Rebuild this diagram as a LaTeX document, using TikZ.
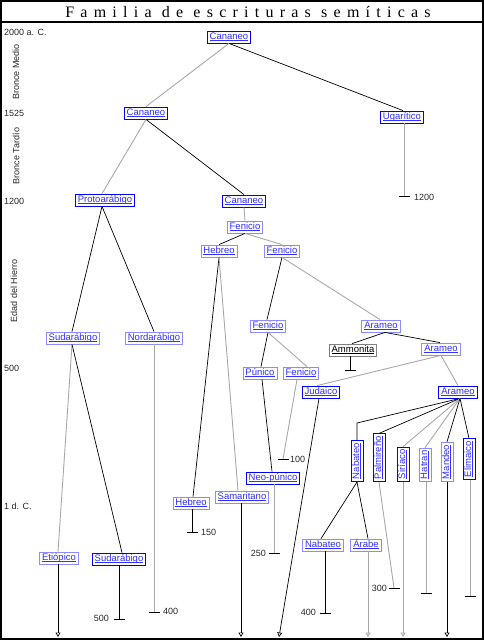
\documentclass[tikz,border=0pt]{standalone}
\usepackage{fontspec}
\setmainfont{Liberation Sans}
\newfontfamily\titlefont[LetterSpace=39]{Liberation Serif}
\usetikzlibrary{arrows.meta,calc}
\definecolor{bx}{HTML}{0000FF}
\definecolor{bxl}{HTML}{8C8CFF}
\definecolor{tx}{HTML}{3030FF}
\definecolor{lg}{HTML}{A8A8A8}
\newcommand\lk[1]{\setbox0\hbox{#1}\rlap{\vrule height -1.3pt depth 1.9pt width \wd0}\box0}
\newcommand\mytick[1]{\draw[tk] ([xshift=-5.5pt]#1) -- ([xshift=5.5pt]#1);}
\begin{document}
\begin{tikzpicture}[x=1pt,y=-1pt,
  lbl/.style={draw=bx, fill=white, text=tx, font=\fontsize{9.5}{10}\selectfont,
    inner xsep=2.5pt, inner ysep=1pt, text height=7pt, text depth=3pt, line width=0.8pt},
  lbll/.style={lbl, draw=bxl},
  bl/.style={draw=black, line width=0.7pt},
  gl/.style={draw=lg, line width=0.9pt},
  tk/.style={draw=black, line width=0.8pt},
  yr/.style={font=\fontsize{9}{10}\selectfont, text=black!85, inner sep=0pt},
  arr/.style={-{Triangle[open,width=5pt,length=4.5pt]}}
]
\useasboundingbox (0,0) rectangle (484,640);
\draw[line width=2pt] (1,1) rectangle (483,639);
\draw[line width=1.6pt] (1,22) -- (483,22);
\node (title) at (248,12.5) {\titlefont\fontsize{16}{17}\selectfont Familia de escrituras semíticas};

% period labels
\node[yr, anchor=west] (y2000) at (4,32) {2000 a. C.};
\node[yr, anchor=west] (y1525) at (4,113) {1525};
\node[yr, anchor=west] (y1200) at (4,201) {1200};
\node[yr, anchor=west] (y500) at (4,368) {500};
\node[yr, anchor=west] (y1dc) at (4,506) {1 d. C.};
\node[yr, rotate=90] (bm) at (16,72) {Bronce Medio};
\node[yr, rotate=90] (bt) at (16,156) {Bronce Tardío};
\node[yr, rotate=90] (eh) at (14,291) {Edad del Hierro};

% nodes
\node[lbl] (can1) at (229,37) {\lk{Cananeo}};
\node[lbl] (can2) at (146,113) {\lk{Cananeo}};
\node[lbl] (uga) at (402,117) {\lk{Ugarítico}};
\node[lbl] (proto) at (105,200) {\lk{Protoarábigo}};
\node[lbl] (can3) at (244,201) {\lk{Cananeo}};
\node[lbll] (fen1) at (245,227) {\lk{Fenicio}};
\node[lbll] (heb1) at (219,251) {\lk{Hebreo}};
\node[lbll] (fen2) at (282,251) {\lk{Fenicio}};
\node[lbll] (sud1) at (73,338) {\lk{Sudarábigo}};
\node[lbll] (nord) at (154,338) {\lk{Nordarábigo}};
\node[lbll] (fen3) at (268,326) {\lk{Fenicio}};
\node[lbll] (ara1) at (381,326) {\lk{Arameo}};
\node[lbl, draw=gray, text=black] (amm) at (353,350) {\lk{Ammonita}};
\node[lbll] (ara2) at (441,349) {\lk{Arameo}};
\node[lbll] (pun) at (260,373) {\lk{Púnico}};
\node[lbll] (fen4) at (301,373) {\lk{Fenicio}};
\node[lbl] (jud) at (321,392) {\lk{Judaico}};
\node[lbl] (ara3) at (458,392) {\lk{Arameo}};
\node[lbl, rotate=90, anchor=west] (nab1) at (357,482) {\lk{Nabateo}};
\node[lbl, rotate=90, anchor=west] (pal) at (379,482) {\lk{Palmireño}};
\node[lbl, rotate=90, anchor=west] (sir) at (403,482) {\lk{Siríaco}};
\node[lbll, rotate=90, anchor=west] (hat) at (425,482) {\lk{Hatran}};
\node[lbll, rotate=90, anchor=west] (man) at (447,482) {\lk{Mandeo}};
\node[lbl, rotate=90, anchor=west] (eli) at (469,480) {\lk{Elimaico}};
\node[lbl] (npun) at (273,478) {\lk{Neo-púnico}};
\node[lbll] (sam) at (242,497) {\lk{Samaritano}};
\node[lbll] (heb2) at (191,503) {\lk{Hebreo}};
\node[lbll] (eti) at (59,558) {\lk{Etiópico}};
\node[lbl] (sud2) at (119,559) {\lk{Sudarábigo}};
\node[lbll] (nab2) at (323,545) {\lk{Nabateo}};
\node[lbll] (arab) at (366,545) {\lk{Árabe}};

% tick and arrow coordinates
\coordinate (tuga) at (404,196);
\coordinate (tamm) at (350,370);
\coordinate (tsud2) at (119,619);
\coordinate (tnord) at (154,612);
\coordinate (theb2) at (192,532);
\coordinate (t100) at (283,459);
\coordinate (tnpun) at (274,553);
\coordinate (tnab2) at (325,613);
\coordinate (tpal) at (394,588);
\coordinate (that) at (426,593);
\coordinate (teli) at (470,596);
\coordinate (aeti) at (58,637);
\coordinate (asam) at (241,637);
\coordinate (ajud) at (279,637);
\coordinate (aara) at (368,637);
\coordinate (asir) at (403,637);
\coordinate (aman) at (447,637);
\coordinate (fan) at ([xshift=2pt]ara3.south);
\coordinate (nabk) at (357,423);

% connectors
\draw[gl] (can1.south) -- (can2.north);
\draw[bl] (can1.south) -- ([xshift=1pt]uga.north);
\draw[gl] (can2.south) -- ([xshift=-3pt]proto.north);
\draw[bl] (can2.south) -- (can3.north);
\draw[gl] (can3.south) -- (fen1.north);
\draw[bl] (fen1.south) -- (heb1.north);
\draw[gl] (fen1.south) -- (fen2.north);
\draw[bl] ([xshift=-3pt]proto.south) -- ([xshift=-1pt]sud1.north);
\draw[bl] ([xshift=-3pt]proto.south) -- (nord.north);
\draw[gl] ([xshift=-1pt]sud1.south) -- ([xshift=-1pt]eti.north);
\draw[bl] ([xshift=-1pt]sud1.south) -- ([xshift=3pt]sud2.north);
\draw[bl] (heb1.south) -- ([xshift=2pt]heb2.north);
\draw[gl] (heb1.south) -- ([xshift=-4pt]sam.north);
\draw[bl] (fen2.south) -- ([xshift=-1pt]fen3.north);
\draw[gl] (fen2.south) -- ([xshift=-1pt]ara1.north);
\draw[bl] (fen3.south) -- ([xshift=1pt]pun.north);
\draw[gl] (fen3.south) -- ([xshift=6pt]fen4.north);
\draw[bl] ([xshift=4pt]ara1.south) -- ([xshift=-1pt]amm.north);
\draw[bl] ([xshift=4pt]ara1.south) -- ([xshift=-1pt]ara2.north);
\draw[gl] (ara2.south) -- ([xshift=-4pt]jud.north);
\draw[gl] (ara2.south) -- (ara3.north);
\draw[bl] ([xshift=2pt]pun.south) -- ([xshift=-1pt]npun.north);
\draw[gl] ([xshift=-4pt]fen4.south) -- (t100);
\draw[bl] (fan) -- (nabk) -- (nab1.east);
\draw[bl] (fan) -- (pal.east);
\draw[gl] (fan) -- (sir.east);
\draw[gl] (fan) -- (hat.east);
\draw[bl] (fan) -- (man.east);
\draw[bl] (fan) -- (eli.east);
\draw[bl] (nab1.west) -- ([xshift=-2pt]nab2.north);
\draw[bl] (nab1.west) -- ([xshift=2pt]arab.north);

% down lines with ticks
\draw[gl] ([xshift=2pt]uga.south) -- (tuga); \mytick{tuga}
\draw[bl] (amm.south -| tamm) -- (tamm); \mytick{tamm}
\draw[bl] (sud2.south) -- (tsud2); \mytick{tsud2}
\draw[gl] (nord.south) -- (tnord); \mytick{tnord}
\draw[bl] (heb2.south -| theb2) -- (theb2); \mytick{theb2}
\mytick{t100}
\draw[gl] (npun.south -| tnpun) -- (tnpun); \mytick{tnpun}
\draw[bl] (nab2.south -| tnab2) -- (tnab2); \mytick{tnab2}
\draw[gl] (pal.west) -- (tpal); \mytick{tpal}
\draw[gl] (hat.west -| that) -- (that); \mytick{that}
\draw[gl] (eli.west -| teli) -- (teli); \mytick{teli}

\node[yr, anchor=west] (l1200) at (414,197) {1200};
\node[yr, anchor=east] (l500) at (109,618) {500};
\node[yr, anchor=west] (l400a) at (163,611) {400};
\node[yr, anchor=west] (l150) at (201,532) {150};
\node[yr, anchor=west] (l100) at (290,459) {100};
\node[yr, anchor=east] (l250) at (266,553) {250};
\node[yr, anchor=east] (l400b) at (316,612) {400};
\node[yr, anchor=east] (l300) at (387,588) {300};

% arrows to the bottom
\draw[bl, arr] (eti.south -| aeti) -- (aeti);
\draw[bl, arr] (sam.south -| asam) -- (asam);
\draw[bl, arr] ([xshift=-2pt]jud.south) -- (ajud);
\draw[gl, arr] (arab.south -| aara) -- (aara);
\draw[gl, arr] (sir.west) -- (asir);
\draw[bl, arr] (man.west) -- (aman);
\end{tikzpicture}
\end{document}
